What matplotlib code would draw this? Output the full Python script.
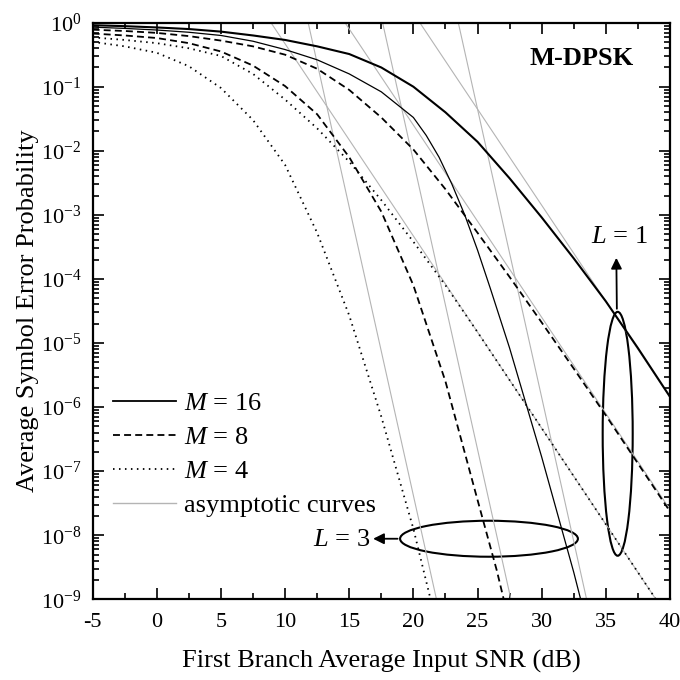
import numpy as np
import matplotlib
matplotlib.use('Agg')
import matplotlib.pyplot as plt
from matplotlib.lines import Line2D
from matplotlib.patches import Ellipse
from matplotlib.ticker import MultipleLocator, LogLocator, NullFormatter

plt.rcParams['font.family'] = ['Liberation Serif', 'DejaVu Serif']
plt.rcParams['mathtext.fontset'] = 'custom'
plt.rcParams['mathtext.rm'] = 'Liberation Serif'
plt.rcParams['mathtext.it'] = 'Liberation Serif:italic'
plt.rcParams['axes.unicode_minus'] = False
plt.rcParams['lines.scale_dashes'] = False

# SNR (dB) and log10 of symbol error probability
snr_l1_m16 = [-5, -2.5, 0, 2.5, 5, 7.5, 10, 12.5, 15, 17.5, 20, 22.5, 25, 27.5, 30, 32.5, 35, 37.5, 40]
logp_l1_m16 = [-0.04, -0.055, -0.075, -0.10, -0.14, -0.20, -0.27, -0.37, -0.49, -0.70, -1.00, -1.40,
               -1.86, -2.43, -3.04, -3.68, -4.35, -5.08, -5.84]

snr_l3_m16 = [-5, -2.5, 0, 2.5, 5, 7.5, 10, 12.5, 15, 17.5, 20, 21, 22, 23, 24, 25, 26, 27.5, 30, 32.5, 33.1]
logp_l3_m16 = [-0.07, -0.09, -0.115, -0.15, -0.20, -0.29, -0.42, -0.58, -0.80, -1.08, -1.48, -1.76,
               -2.10, -2.52, -3.0, -3.55, -4.15, -5.08, -6.78, -8.58, -9.05]

snr_l1_m8 = [-5, -2.5, 0, 2.5, 5, 7.5, 10, 12.5, 15, 17.5, 20, 22.5, 25, 27.5, 30, 32.5, 35, 37.5, 40]
logp_l1_m8 = [-0.11, -0.13, -0.16, -0.21, -0.28, -0.37, -0.50, -0.72, -1.05, -1.48, -1.98, -2.60,
              -3.28, -3.97, -4.68, -5.40, -6.13, -6.88, -7.63]

snr_l3_m8 = [-5, -2.5, 0, 2.5, 5, 7.5, 10, 12.5, 15, 17.5, 20, 22.5, 25, 26.5, 27.1]
logp_l3_m8 = [-0.17, -0.20, -0.24, -0.32, -0.45, -0.67, -0.99, -1.43, -2.10, -2.95, -4.10, -5.60,
              -7.45, -8.55, -9.05]

snr_l1_m4 = [-5, -2.5, 0, 2.5, 5, 7.5, 10, 12.5, 15, 17.5, 20, 22.5, 25, 27.5, 30, 32.5, 35, 37.5, 39]
logp_l1_m4 = [-0.23, -0.27, -0.32, -0.40, -0.52, -0.80, -1.20, -1.65, -2.17, -2.77, -3.42, -4.10,
              -4.83, -5.58, -6.33, -7.08, -7.83, -8.58, -9.03]

snr_l3_m4 = [-5, -2.5, 0, 2.5, 5, 7.5, 10, 12.5, 15, 17.5, 20, 21.4]
logp_l3_m4 = [-0.30, -0.37, -0.47, -0.68, -1.02, -1.52, -2.22, -3.28, -4.57, -6.15, -7.9, -9.05]

# asymptotic straight lines (two end points each)
asym_snr = [[8.9, 38.9], [14.67, 40], [20.5, 40], [11.8, 21.8], [17.6, 27.6], [23.5, 33.5]]
asym_logp = [[0, -9], [0, -7.6], [0, -5.85], [0, -9], [0, -9], [0, -9]]

legend_labels = ['$M$ = 16', '$M$ = 8', '$M$ = 4', 'asymptotic curves']

fig = plt.figure(figsize=(6.8, 6.8), dpi=100)
ax = fig.add_axes([0.1362, 0.1187, 0.8491, 0.848])

gray = '#b4b4b4'
for xs, ys in zip(asym_snr, asym_logp):
    ax.plot(xs, 10 ** np.array(ys, dtype=float), color=gray, lw=0.8)

dash = (5, 3)
dot = (1.1, 3.2)
ax.plot(snr_l1_m16, 10 ** np.array(logp_l1_m16), color='black', lw=1.5)
ax.plot(snr_l3_m16, 10 ** np.array(logp_l3_m16), color='black', lw=0.9)
ax.plot(snr_l1_m8, 10 ** np.array(logp_l1_m8), color='black', lw=1.3, dashes=dash)
ax.plot(snr_l3_m8, 10 ** np.array(logp_l3_m8), color='black', lw=1.3, dashes=dash)
ax.plot(snr_l1_m4, 10 ** np.array(logp_l1_m4), color='black', lw=1.3, dashes=dot)
ax.plot(snr_l3_m4, 10 ** np.array(logp_l3_m4), color='black', lw=1.3, dashes=dot)

ax.set_yscale('log')
ax.set_xlim(-5, 40)
ax.set_ylim(1e-9, 1)
ax.xaxis.set_major_locator(MultipleLocator(5))
ax.xaxis.set_minor_locator(MultipleLocator(2.5))
ax.yaxis.set_major_locator(LogLocator(base=10, numticks=15))
ax.yaxis.set_minor_locator(LogLocator(base=10, subs=np.arange(2, 10), numticks=15))
ax.yaxis.set_minor_formatter(NullFormatter())
ax.tick_params(which='both', direction='in', top=True, right=True, labelsize=16, width=1.2)
ax.tick_params(which='major', length=8, pad=8)
ax.tick_params(axis='x', which='major', pad=10)
ax.tick_params(which='minor', length=4.5)
for s in ax.spines.values():
    s.set_linewidth(1.6)

ax.set_xlabel('First Branch Average Input SNR (dB)', fontsize=19, labelpad=13)
ax.set_ylabel('Average Symbol Error Probability', fontsize=19, labelpad=1)

ax.text(0.8475, 0.937, 'M-DPSK', transform=ax.transAxes, fontsize=19,
        fontweight='bold', ha='center', va='center')

# annotation ellipses and arrows
ax.add_patch(Ellipse((0.9094, 0.287), 0.052, 0.423, transform=ax.transAxes,
                     fill=False, lw=1.5, color='black'))
ax.add_patch(Ellipse((0.6865, 0.105), 0.308, 0.0624, transform=ax.transAxes,
                     fill=False, lw=1.5, color='black'))
ax.annotate('', xy=(0.907, 0.597), xytext=(0.908, 0.499), xycoords='axes fraction',
            arrowprops=dict(arrowstyle='-|>', color='black', lw=1.3, mutation_scale=16))
ax.text(0.913, 0.628, '$L$ = 1', transform=ax.transAxes, fontsize=19, ha='center', va='center')
ax.annotate('', xy=(0.481, 0.105), xytext=(0.533, 0.105), xycoords='axes fraction',
            arrowprops=dict(arrowstyle='-|>', color='black', lw=1.3, mutation_scale=16))
ax.text(0.48, 0.103, '$L$ = 3', transform=ax.transAxes, fontsize=19, ha='right', va='center')

handles = [Line2D([], [], color='black', lw=1.3),
           Line2D([], [], color='black', lw=1.3, dashes=dash),
           Line2D([], [], color='black', lw=1.3, dashes=dot),
           Line2D([], [], color=gray, lw=1.0)]
ax.legend(handles, legend_labels, loc='upper left', bbox_to_anchor=(0.035, 0.36),
          frameon=False, fontsize=19, handlelength=2.4, handletextpad=0.3,
          labelspacing=0.4, borderpad=0, borderaxespad=0)

fig.savefig('out.png', dpi=100)
